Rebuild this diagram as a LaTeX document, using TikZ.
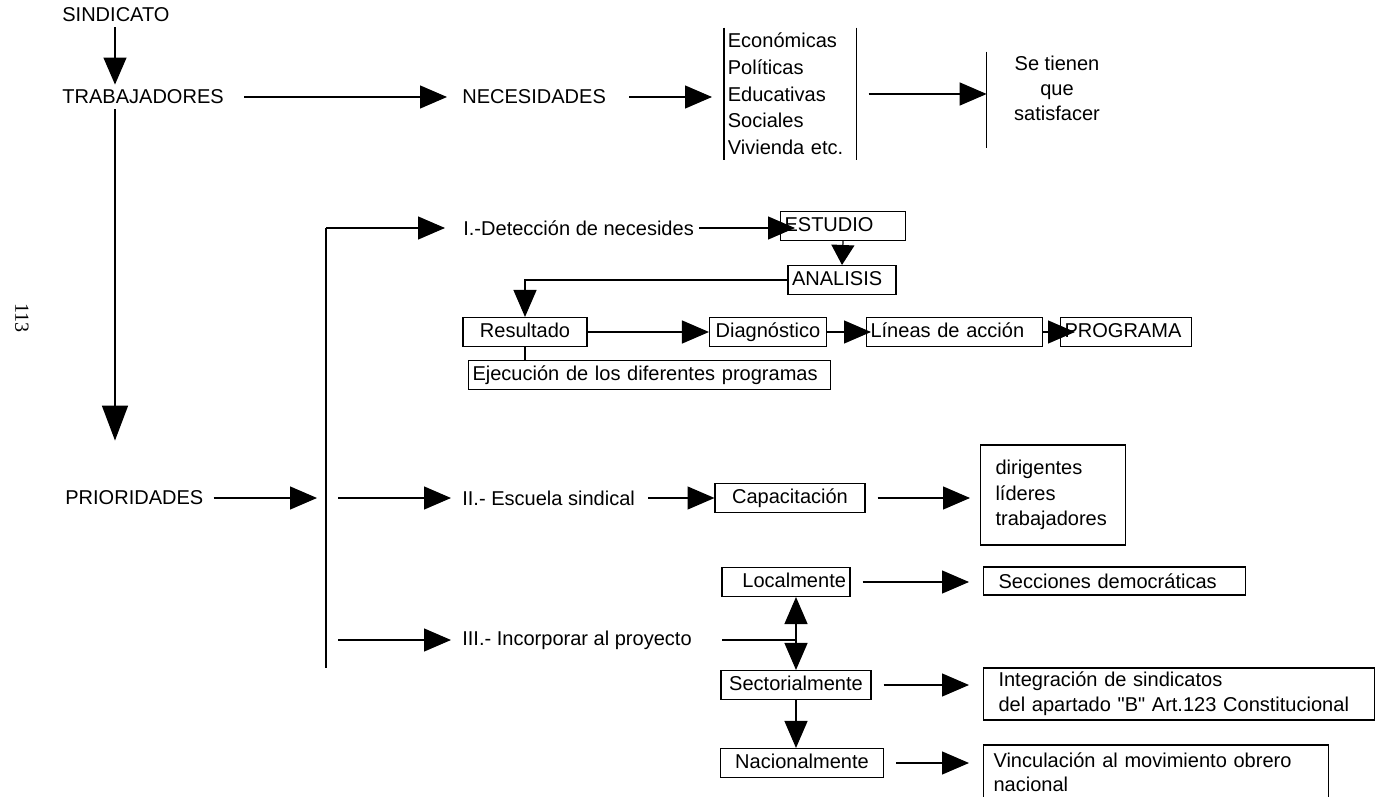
\documentclass[tikz,border=0pt]{standalone}
\usepackage{fontspec}
\setmainfont{Liberation Sans}[Ligatures=TeXOff]
\newfontfamily\folio{Liberation Serif}
\usetikzlibrary{arrows.meta}
\usetikzlibrary{positioning}

\begin{document}
\begin{tikzpicture}[x=0.02cm,y=-0.02cm,font=\fontsize{11.4}{15.2}\selectfont]
        \tikzset{txt/.style={inner sep=0.1cm,anchor=west},
          box/.style={draw,line width=0.6pt,inner xsep=0.08cm,inner ysep=0pt,minimum height=0.58cm,text height=8.6pt,text depth=2.6pt},
          listbox/.style={draw,line width=0.6pt,anchor=west,inner xsep=0.3cm,inner ysep=0pt,align=left},
          conn/.style={line width=0.7pt},
          arrowline/.style={conn,-{Triangle[length=0.54cm,width=0.46cm]}},
          bigarrow/.style={line width=0.9pt,-{Triangle[length=0.7cm,width=0.52cm]}}}
        \useasboundingbox (0,0) rectangle (1376,797);
        \node[rotate=-90,font=\folio\fontsize{11.4}{13}\selectfont] (folio) at (22,318) {113};
        % sindicato y necesidades
        \node[txt] (sind) at (57,15) {SINDICATO};
        \node[txt] (trab) at (57,97) {TRABAJADORES};
        \node[txt] (nec) at (457,97) {NECESIDADES};
        \node[anchor=west,text width=2.5cm,inner xsep=0.07cm,inner ysep=0pt,minimum height=2.64cm,align=left] (kinds) at (724,94) {Económicas\\Políticas\\Educativas\\Sociales\\Vivienda etc.};
        \draw[conn] (kinds.north west) -- (kinds.south west) (kinds.north east) -- (kinds.south east);
        \node[minimum width=2.8cm,minimum height=1.92cm,inner sep=0pt,align=center,font=\fontsize{11.4}{14.2}\selectfont] (goal) at (1057,88) {Se tienen\\que\\satisfacer};
        \draw[conn] ([yshift=-0.24cm]goal.north west) -- ([yshift=-0.24cm]goal.south west);
        \coordinate (spine) at (115,0);
        \draw[arrowline] (sind.south -| spine) -- (trab.north -| spine);
        \draw[arrowline,shorten <=0.3cm,shorten >=0.2cm] (trab.east) -- (nec.west);
        \draw[arrowline,shorten <=0.36cm,shorten >=0.24cm] (nec.east) -- (nec.east -| kinds.west);
        \draw[arrowline,shorten <=0.24cm] (kinds.east) -- (kinds.east -| goal.west);
        % prioridades
        \node[txt] (prio) at (60,498) {PRIORIDADES};
        \draw[bigarrow,shorten >=0.9cm] (trab.south -| spine) -- (prio.north -| spine);
        \coordinate (forktop) at (326,228);
        \coordinate (forkbot) at (326,668);
        \draw[line width=0.9pt] (forktop) -- (forkbot);
        \draw[arrowline,shorten <=0.1cm,shorten >=0.18cm] (prio.east) -- (prio.east -| forktop);
        % I.- deteccion
        \node[txt] (det) at (458,228) {I.-Detección de necesides};
        \draw[arrowline,shorten >=0.26cm] (forktop) -- (det.west);
        \node[box,anchor=west,text width=2.34cm,align=left] (est) at (780,226) {ESTUDIO};
        \draw[arrowline,shorten >=-0.3cm] (det.east) -- (det.east -| est.west);
        \node[box,text width=2.0cm,align=left] (ana) at (842,280) {ANALISIS};
        \draw[conn,-{Triangle[length=0.4cm,width=0.46cm]}] (est.south) -- (ana.north);
        \node[box,text width=2.32cm,align=center] (res) at (525,332) {Resultado};
        \draw[arrowline] (ana.west) -| (res.north);
        \node[box,text width=2.18cm,align=center] (diag) at (768,332) {Diagnóstico};
        \draw[arrowline] (res.east) -- (diag.west);
        \node[box,anchor=west,text width=3.36cm,align=left] (lin) at (866,332) {Líneas de acción};
        \draw[arrowline,shorten >=-0.1cm] (diag.east) -- (lin.west);
        \node[box,anchor=west,text width=2.46cm,align=left] (prog) at (1060,332) {PROGRAMA};
        \draw[arrowline,shorten >=-0.3cm] (lin.east) -- (prog.west);
        \node[box,anchor=west,text width=7.08cm,align=left] (ejec) at (468,375) {Ejecución de los diferentes programas};
        \draw[conn] (res.south) -- (res.south |- ejec.north);
        % II.- escuela
        \node[txt] (esc) at (457,498) {II.- Escuela sindical};
        \draw[arrowline,shorten <=0.24cm,shorten >=0.12cm] (prio.east -| forktop) -- (esc.west);
        \node[box,text width=2.84cm,align=center] (cap) at (790,498) {Capacitación};
        \draw[arrowline,shorten <=0.16cm] (esc.east) -- (cap.west);
        \node[listbox,text width=2.3cm,minimum height=2cm,font=\fontsize{11.4}{14.5}\selectfont] (rol) at (980,495) {dirigentes\\líderes\\trabajadores};
        \draw[arrowline,shorten <=0.24cm,shorten >=0.2cm] (cap.east) -- (cap.east -| rol.west);
        % III.- incorporar
        \node[box,text width=2.4cm,align=right] (loc) at (786,582) {Localmente};
        \node[listbox,text width=4.64cm,minimum height=0.56cm] (secc) at (983,581) {Secciones democráticas};
        \draw[arrowline,shorten <=0.24cm,shorten >=0.28cm] (loc.east) -- (loc.east -| secc.west);
        \node[txt] (inc) at (457,640) {III.- Incorporar al proyecto};
        \draw[arrowline,shorten <=0.24cm,shorten >=0.12cm] (inc.west -| forkbot) -- (inc.west);
        \node[box,text width=2.84cm,align=center] (sec) at (796,685) {Sectorialmente};
        \node[box,text width=3.1cm,align=center] (nac) at (802,763) {Nacionalmente};
        \coordinate (jn) at (796,640);
        \draw[conn,shorten <=0.5cm] (inc.east) -- (jn);
        \draw[arrowline] (jn) -- (loc.south -| jn);
        \draw[arrowline] (jn) -- (sec.north -| jn);
        \draw[arrowline] (sec.south) -- (sec.south |- nac.north);
        \node[listbox,text width=7.22cm,minimum height=1.04cm,font=\fontsize{11.4}{14.2}\selectfont] (integ) at (983,694) {Integración de sindicatos\\del apartado "B" Art.123 Constitucional};
        \draw[arrowline,shorten <=0.24cm,shorten >=0.28cm] (sec.east) -- (sec.east -| integ.west);
        \node[listbox,inner xsep=0.2cm,text width=6.5cm,minimum height=1.08cm,font=\fontsize{11.4}{13.7}\selectfont] (vinc) at (983,772) {Vinculación al movimiento obrero\\nacional};
        \draw[arrowline,shorten <=0.24cm,shorten >=0.28cm] (nac.east) -- (nac.east -| vinc.west);
\end{tikzpicture}
\end{document}
